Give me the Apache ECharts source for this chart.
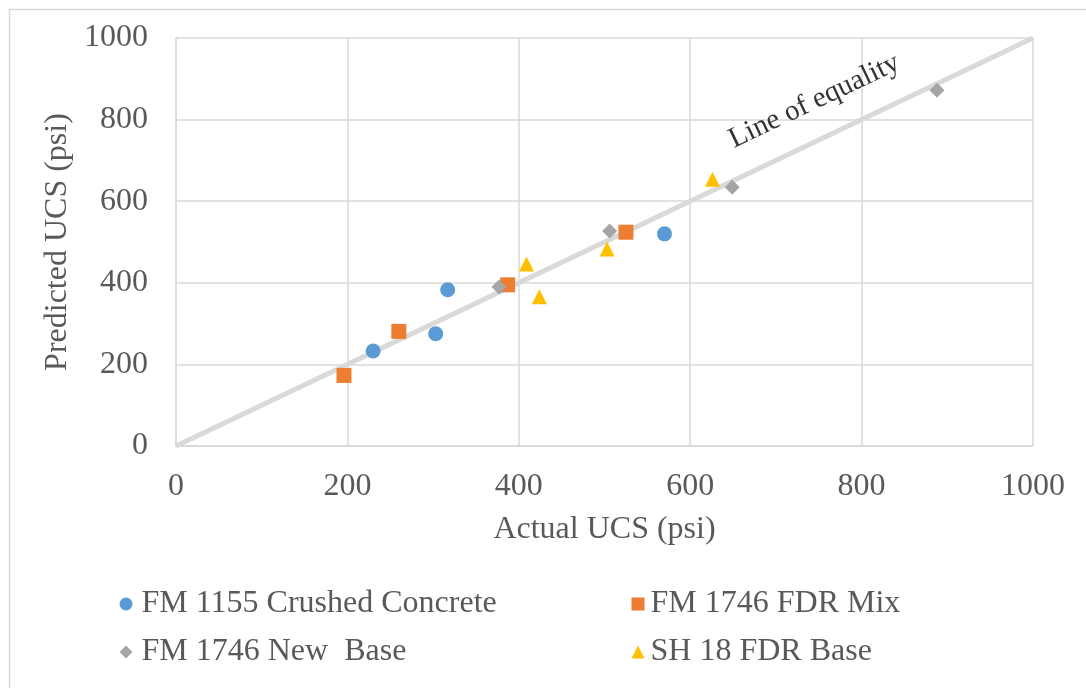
<!DOCTYPE html>
<html>
<head>
<meta charset="utf-8">
<script src="https://cdn.jsdelivr.net/npm/echarts@6/dist/echarts.min.js"></script>
<style>
html,body{margin:0;padding:0;background:#fff;}
#chart{width:1086px;height:688px;}
</style>
</head>
<body>
<div id="chart"></div>
<script>
// ---- data ----
const seriesNames = ['FM 1155 Crushed Concrete', 'FM 1746 FDR Mix', 'FM 1746 New  Base', 'SH 18 FDR Base'];
const fm1155Crushed = [[230, 233], [303, 275], [317, 383], [570, 520]];
const fm1746FdrMix = [[196, 173], [260, 281], [387, 395], [525, 524]];
const fm1746NewBase = [[377, 390], [506, 527], [649, 634], [888, 872]];
const sh18FdrBase = [[409, 446], [424, 366], [503, 483], [626, 654]];
const equalityLine = [[0, 0], [1000, 1000]];
const equalityLabelText = 'Line of equality';
const equalityLabelPoint = [[745, 845]];
const axisTicks = [0, 200, 400, 600, 800, 1000];
const xAxisTitle = 'Actual UCS (psi)';
const yAxisTitle = 'Predicted UCS (psi)';

const FONT = "'Liberation Serif', 'Times New Roman', serif";
const TXT = '#595959';
const GRID = '#d9d9d9';
const colors = ['#5B9BD5', '#ED7D31', '#A5A5A5', '#FFC000'];
const symbols = ['circle', 'rect', 'diamond', 'triangle'];
const seriesData = [fm1155Crushed, fm1746FdrMix, fm1746NewBase, sh18FdrBase];

const chart = echarts.init(document.getElementById('chart'), null, {renderer: 'canvas'});

function legendAt(name, left, top, padLeft) {
  return {
    data: [name], left: left, top: top, padding: 0,
    itemWidth: 13, itemHeight: 13, selectedMode: false,
    textStyle: {fontFamily: FONT, fontSize: 32, color: TXT, padding: [0, 0, 0, padLeft]}
  };
}

const scatterSeries = seriesNames.map((n, i) => ({
  name: n, type: 'scatter', data: seriesData[i],
  symbol: symbols[i], symbolSize: 15, z: 5,
  itemStyle: {color: colors[i], opacity: 1}
}));

const tickFmt = v => String(v);

const option = {
  animation: false,
  backgroundColor: '#fff',
  graphic: [{
    type: 'rect', left: 7, top: 7, silent: true, z: -10,
    shape: {x: 0, y: 0, width: 1100, height: 700},
    style: {fill: 'none', stroke: GRID, lineWidth: 1.5}
  }],
  legend: [
    legendAt(seriesNames[0], 119.5, 588, 4),
    legendAt(seriesNames[1], 631.5, 588, 1),
    legendAt(seriesNames[2], 119.5, 636, 4),
    legendAt(seriesNames[3], 631.5, 636, 1)
  ],
  grid: {left: 176, right: 53, top: 38, bottom: 242, containLabel: false},
  xAxis: {
    type: 'value', min: axisTicks[0], max: axisTicks[axisTicks.length - 1], interval: 200,
    name: xAxisTitle, nameLocation: 'middle', nameGap: 68,
    nameTextStyle: {fontFamily: FONT, fontSize: 32, color: TXT},
    axisLine: {show: true, lineStyle: {color: GRID, width: 1.5}},
    axisTick: {show: false},
    axisLabel: {fontFamily: FONT, fontSize: 32, color: TXT, margin: 25, formatter: tickFmt},
    splitLine: {show: true, lineStyle: {color: GRID, width: 1.5}}
  },
  yAxis: {
    type: 'value', min: axisTicks[0], max: axisTicks[axisTicks.length - 1], interval: 200,
    name: yAxisTitle, nameLocation: 'middle', nameGap: 88, nameRotate: 90,
    nameTextStyle: {fontFamily: FONT, fontSize: 32, color: TXT},
    axisLine: {show: true, lineStyle: {color: GRID, width: 1.5}},
    axisTick: {show: false},
    axisLabel: {fontFamily: FONT, fontSize: 32, color: TXT, margin: 28, formatter: tickFmt},
    splitLine: {show: true, lineStyle: {color: GRID, width: 1.5}}
  },
  series: [
    {
      name: 'equality', type: 'line', data: equalityLine, symbol: 'none', silent: true, z: 2,
      lineStyle: {color: GRID, width: 5}
    },
    {
      name: 'equalityLabel', type: 'scatter', data: equalityLabelPoint, symbolSize: 0, silent: true, z: 3,
      label: {
        show: true, position: 'inside', formatter: equalityLabelText, rotate: 25.46,
        fontFamily: FONT, fontSize: 29, color: '#000', align: 'center', verticalAlign: 'middle'
      }
    }
  ].concat(scatterSeries)
};
chart.setOption(option);
</script>
</body>
</html>
